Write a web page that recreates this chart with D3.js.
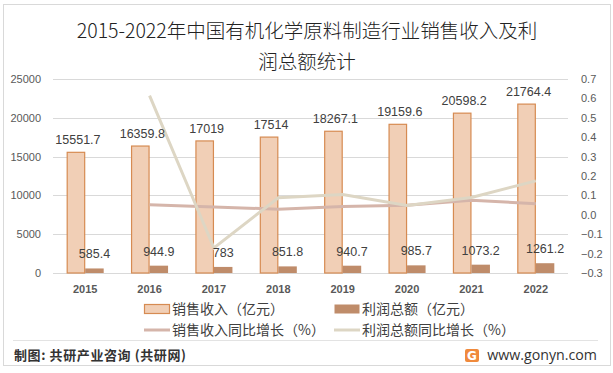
<!DOCTYPE html>
<html>
<head>
<meta charset="utf-8">
<script src="https://cdn.jsdelivr.net/npm/d3@7"></script>
<style>
  body { margin: 0; background: #fff; }
  svg { display: block; font-family: "Noto Sans CJK SC", "Noto Sans", sans-serif; }
  .axis path, .axis line { display: none; }
  .axis text { fill: #595959; font-size: 11px; font-family: "Liberation Sans", "DejaVu Sans", sans-serif; }
</style>
</head>
<body>
<div id="chart"></div>
<script>
// chart data
const years = ['2015', '2016', '2017', '2018', '2019', '2020', '2021', '2022'];
const salesRevenue = [15551.7, 16359.8, 17019, 17514, 18267.1, 19159.6, 20598.2, 21764.4];
const totalProfit = [585.4, 944.9, 783, 851.8, 940.7, 985.7, 1073.2, 1261.2];
// growth rates (first year has no value)
const salesGrowth = [null, 0.052, 0.040, 0.029, 0.043, 0.049, 0.075, 0.057];
const profitGrowth = [null, 0.614, -0.171, 0.088, 0.104, 0.048, 0.089, 0.175];
const leftTicks = [0, 5000, 10000, 15000, 20000, 25000];
const rightTicks = [-0.3, -0.2, -0.1, 0, 0.1, 0.2, 0.3, 0.4, 0.5, 0.6, 0.7];

const titleLines = ['2015-2022年中国有机化学原料制造行业销售收入及利', '润总额统计'];
const legendItems = [
    {label: '销售收入（亿元）', type: 'bar', fill: '#f1cfb6', stroke: '#d68b52'},
    {label: '利润总额（亿元）', type: 'bar', fill: '#bf8c6a', stroke: 'none'},
    {label: '销售收入同比增长（%）', type: 'line', stroke: '#d5b5aa'},
    {label: '利润总额同比增长（%）', type: 'line', stroke: '#ddd6c4'}
];

const width = 613, height = 373;
const margin = {t: 79, r: 45, b: 100, l: 53};
const w = 568 - margin.l;
const h = 273 - margin.t;

const svg = d3.select('#chart').append('svg')
    .attr('width', width)
    .attr('height', height);

// outer frame
svg.append('rect')
    .attr('x', 3.5).attr('y', 4.5)
    .attr('width', 607).attr('height', 361)
    .attr('fill', 'none')
    .attr('stroke', '#d9d9d9');

// title
svg.append('g').selectAll('text')
    .data(titleLines)
    .join('text')
    .attr('x', 307)
    .attr('y', (d, i) => 38 + i * 31)
    .attr('text-anchor', 'middle')
    .attr('fill', '#222')
    .attr('font-size', 19.5)
    .attr('font-weight', 300)
    .text(d => d);

const plot = svg.append('g')
    .attr('transform', `translate(${margin.l},${margin.t})`);

// scales
const x = d3.scaleBand()
    .domain(years)
    .range([0, w])
    .paddingInner(0)
    .paddingOuter(0);

const yLeft = d3.scaleLinear()
    .domain([0, 25000])
    .range([h, 0]);

const yRight = d3.scaleLinear()
    .domain([-0.3, 0.7])
    .range([h, 0]);

// gridlines
plot.append('g').selectAll('line')
    .data(leftTicks)
    .join('line')
    .attr('x1', 0).attr('x2', w)
    .attr('y1', d => Math.round(yLeft(d)) + 0.5)
    .attr('y2', d => Math.round(yLeft(d)) + 0.5)
    .attr('stroke', '#d9d9d9');

// axes
plot.append('g')
    .attr('class', 'axis axis-left')
    .attr('transform', 'translate(-9,0)')
    .call(d3.axisLeft(yLeft).tickValues(leftTicks).tickSize(0).tickFormat(d3.format('d')));

plot.append('g')
    .attr('class', 'axis axis-right')
    .attr('transform', `translate(${w + 10},0)`)
    .call(d3.axisRight(yRight).tickValues(rightTicks).tickSize(0).tickFormat(d3.format('.1f')));

const axisX = plot.append('g')
    .attr('class', 'axis axis-x')
    .attr('transform', `translate(0,${h + 9})`)
    .call(d3.axisBottom(x).tickSize(0));
axisX.selectAll('text')
    .attr('fill', '#000')
    .attr('font-weight', 'bold')
    .attr('font-size', 11.5);

// bars
const barW = 18.5;
const groupOffset = x.bandwidth() / 2 - barW;

plot.append('g').selectAll('rect')
    .data(years)
    .join('rect')
    .attr('x', (d, i) => x(d) + groupOffset + 0.5)
    .attr('y', (d, i) => yLeft(salesRevenue[i]))
    .attr('width', barW - 1)
    .attr('height', (d, i) => h - yLeft(salesRevenue[i]))
    .attr('fill', legendItems[0].fill)
    .attr('stroke', legendItems[0].stroke)
    .attr('stroke-width', 1.2);

plot.append('g').selectAll('rect')
    .data(years)
    .join('rect')
    .attr('x', (d, i) => x(d) + groupOffset + barW)
    .attr('y', (d, i) => yLeft(totalProfit[i]))
    .attr('width', barW)
    .attr('height', (d, i) => h - yLeft(totalProfit[i]))
    .attr('fill', legendItems[1].fill);

// growth lines
const lineGen = d3.line()
    .defined(d => d.v !== null)
    .x(d => x(d.year) + x.bandwidth() / 2)
    .y(d => yRight(d.v));

plot.append('path')
    .datum(years.map((d, i) => ({year: d, v: salesGrowth[i]})))
    .attr('d', lineGen)
    .attr('fill', 'none')
    .attr('stroke', legendItems[2].stroke)
    .attr('stroke-width', 3);

plot.append('path')
    .datum(years.map((d, i) => ({year: d, v: profitGrowth[i]})))
    .attr('d', lineGen)
    .attr('fill', 'none')
    .attr('stroke', legendItems[3].stroke)
    .attr('stroke-width', 3);

// data labels
const labelStyle = sel => sel
    .attr('text-anchor', 'middle')
    .attr('fill', '#404040')
    .attr('font-size', 12.5)
    .attr('font-family', '"Liberation Sans", "DejaVu Sans", sans-serif');

plot.append('g').selectAll('text')
    .data(years)
    .join('text')
    .attr('x', (d, i) => x(d) + groupOffset + barW / 2 + 2)
    .attr('y', (d, i) => yLeft(salesRevenue[i]) - 8)
    .text((d, i) => salesRevenue[i])
    .call(labelStyle);

plot.append('g').selectAll('text')
    .data(years)
    .join('text')
    .attr('x', (d, i) => x(d) + groupOffset + barW * 1.5)
    .attr('y', (d, i) => yLeft(totalProfit[i]) - 10)
    .text((d, i) => totalProfit[i])
    .call(labelStyle);

// legend
const legendPos = [[144, 309], [334, 309], [144, 330], [334, 330]];
const legend = svg.append('g').selectAll('g')
    .data(legendItems)
    .join('g')
    .attr('transform', (d, i) => `translate(${legendPos[i][0]},${legendPos[i][1]})`);

legend.filter(d => d.type === 'bar')
    .append('rect')
    .attr('x', 0.5).attr('y', -4.5)
    .attr('width', 25).attr('height', 9)
    .attr('fill', d => d.fill)
    .attr('stroke', d => d.stroke)
    .attr('stroke-width', 1.2);

legend.filter(d => d.type === 'line')
    .append('line')
    .attr('x1', 0).attr('x2', 26)
    .attr('y1', 0).attr('y2', 0)
    .attr('stroke', d => d.stroke)
    .attr('stroke-width', 3);

legend.append('text')
    .attr('x', 28)
    .attr('y', 5)
    .attr('fill', '#404040')
    .attr('font-size', 14)
    .text(d => d.label);

// footer
svg.append('line')
    .attr('x1', 13).attr('x2', 598)
    .attr('y1', 340.5).attr('y2', 340.5)
    .attr('stroke', '#e3e3e3');

svg.append('text')
    .attr('x', 14)
    .attr('y', 360)
    .attr('fill', '#333')
    .attr('font-size', 13)
    .attr('font-weight', 'bold')
    .attr('letter-spacing', 0.6)
    .text('制图: 共研产业咨询 (共研网)');

const logo = svg.append('g').attr('transform', 'translate(465,349)');
logo.append('rect')
    .attr('width', 14).attr('height', 13).attr('rx', 2)
    .attr('fill', '#f08a3c');
logo.append('text')
    .attr('x', 7).attr('y', 11)
    .attr('text-anchor', 'middle')
    .attr('fill', '#fff')
    .attr('font-size', 12)
    .attr('font-weight', 'bold')
    .attr('font-family', '"DejaVu Sans", sans-serif')
    .text('G');

svg.append('text')
    .attr('x', 597)
    .attr('y', 360)
    .attr('text-anchor', 'end')
    .attr('fill', '#333')
    .attr('font-size', 14.2)
    .attr('font-family', '"Open Sans", "DejaVu Sans", sans-serif')
    .text('www.gonyn.com');
</script>
</body>
</html>
